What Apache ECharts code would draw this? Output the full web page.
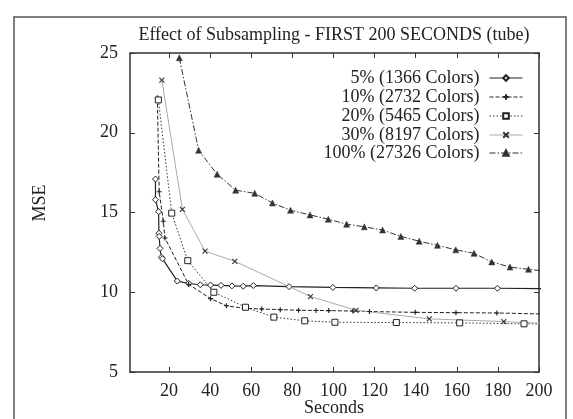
<!DOCTYPE html>
<html>
<head>
<meta charset="utf-8">
<script src="https://cdn.jsdelivr.net/npm/echarts@6/dist/echarts.min.js"></script>
<style>
  html, body { margin: 0; padding: 0; background: #fff; }
  #chart { width: 573px; height: 419px; }
</style>
</head>
<body>
<div id="chart"></div>
<script>
// tick labels
var xTicks = [20, 40, 60, 80, 100, 120, 140, 160, 180, 200];
var yTicks = [5, 10, 15, 20, 25];

// series names
var names = ['5% (1366 Colors)', '10% (2732 Colors)', '20% (5465 Colors)', '30% (8197 Colors)', '100% (27326 Colors)'];

// 5%
var x5 = [13.4, 13.4, 14.9, 15.1, 15.2, 15.6, 16.3, 16.8, 24, 29.6, 35.2, 40.2, 45.3, 50.6, 56.1, 61, 78.4, 99.7, 120.8, 139.5, 159.6, 179.8, 205];
var y5 = [17.1, 15.8, 15.05, 13.7, 13.5, 12.75, 12.2, 12.1, 10.7, 10.55, 10.47, 10.45, 10.43, 10.4, 10.38, 10.42, 10.35, 10.3, 10.27, 10.25, 10.25, 10.25, 10.22];
// 10%
var x10 = [14.3, 15.2, 17.2, 18.0, 29.5, 40.2, 47.9, 56.5, 65.1, 74.1, 83, 91.5, 97.7, 109.4, 117.5, 139.8, 159.6, 179.5, 215];
var y10 = [22.2, 16.3, 14.45, 13.4, 10.5, 9.6, 9.15, 9.0, 8.95, 8.91, 8.87, 8.86, 8.85, 8.82, 8.79, 8.74, 8.72, 8.7, 8.6];
// 20%
var x20 = [14.8, 21.3, 29.1, 41.8, 57.2, 71, 86, 100.7, 130.6, 161.4, 192.7, 220];
var y20 = [22.06, 14.96, 11.98, 10.0, 9.06, 8.44, 8.21, 8.12, 8.1, 8.08, 8.02, 7.98];
// 30%
var x30 = [16.5, 26.5, 37.5, 52, 88.8, 111, 146.6, 182.9, 219];
var y30 = [23.3, 15.2, 12.58, 11.94, 9.73, 8.87, 8.33, 8.16, 7.95];
// 100%
var x100 = [25, 34.4, 43.4, 52.4, 61.7, 70.3, 79.1, 88.6, 97.5, 106.4, 115, 123.9, 132.8, 141.7, 150.6, 159.5, 168.4, 177, 185.9, 194.9, 204];
var y100 = [24.7, 18.9, 17.4, 16.4, 16.2, 15.6, 15.14, 14.85, 14.58, 14.27, 14.1, 13.9, 13.5, 13.2, 12.94, 12.66, 12.44, 11.9, 11.58, 11.44, 11.3];

var FONT = 'Liberation Serif';
var INK = '#222';

function pairs(xs, ys) {
    return xs.map(function (x, i) { return [x, ys[i]]; });
}

var PLUS = 'path://M5,0L5,10M0,5L10,5';
var CROSS = 'path://M0,0L10,10M10,0L0,10';

var series = [
    {
        name: names[0], data: pairs(x5, y5),
        symbol: 'diamond', symbolSize: 6,
        lineStyle: { color: INK, width: 1.2, type: 'solid' },
        itemStyle: { color: '#fff', borderColor: INK, borderWidth: 1 }
    },
    {
        name: names[1], data: pairs(x10, y10),
        symbol: PLUS, symbolSize: 5,
        lineStyle: { color: INK, width: 1, type: [4, 2] },
        itemStyle: { color: INK, borderColor: INK, borderWidth: 1.1 }
    },
    {
        name: names[2], data: pairs(x20, y20),
        symbol: 'rect', symbolSize: 6,
        lineStyle: { color: '#333', width: 1, type: [1.5, 2] },
        itemStyle: { color: '#fff', borderColor: INK, borderWidth: 1 }
    },
    {
        name: names[3], data: pairs(x30, y30),
        symbol: CROSS, symbolSize: 5,
        lineStyle: { color: '#aaa', width: 1, type: 'solid' },
        itemStyle: { color: '#333', borderColor: '#333', borderWidth: 1.1 }
    },
    {
        name: names[4], data: pairs(x100, y100),
        symbol: 'triangle', symbolSize: 6,
        lineStyle: { color: '#333', width: 1, type: [6, 2, 1.5, 2] },
        itemStyle: { color: '#333', borderColor: '#333', borderWidth: 0.5 }
    }
].map(function (s) {
    s.type = 'line';
    s.showAllSymbol = true;
    s.animation = false;
    s.clip = true;
    return s;
});

// one legend per row so the line samples line up on the right
var legendRows = [78, 97, 116, 135, 153];
var legends = names.map(function (n, i) {
    return {
        data: [n], right: 50, top: legendRows[i] - 9,
        align: 'right', orient: 'vertical',
        itemWidth: 33, itemHeight: 7, padding: 0,
        lineStyle: { width: 1 },
        textStyle: { fontFamily: FONT, fontSize: 18, color: INK, lineHeight: 18, padding: [0, 5, 0, 0] },
        selectedMode: false
    };
});

var axisLine = { show: true, lineStyle: { color: '#333', width: 1.5 } };

var option = {
    backgroundColor: '#fff',
    animation: false,
    grid: { left: 130, right: 34, top: 53, bottom: 47 },
    legend: legends,
    xAxis: [
        {
            type: 'value', min: 1, max: 200, position: 'bottom',
            axisLine: axisLine,
            axisTick: { show: true, inside: true, length: 5, customValues: xTicks, lineStyle: { color: '#333' } },
            axisLabel: { customValues: xTicks, fontFamily: FONT, fontSize: 18, color: INK, margin: 10 },
            splitLine: { show: false }
        },
        {
            type: 'value', min: 1, max: 200, position: 'top',
            axisLine: axisLine,
            axisTick: { show: true, inside: true, length: 5, customValues: xTicks, lineStyle: { color: '#333' } },
            axisLabel: { show: false },
            splitLine: { show: false }
        }
    ],
    yAxis: [
        {
            type: 'value', min: yTicks[0], max: yTicks[yTicks.length - 1], interval: 5, position: 'left',
            axisLine: axisLine,
            axisTick: { show: true, inside: true, length: 5, lineStyle: { color: '#333' } },
            axisLabel: { fontFamily: FONT, fontSize: 18, color: INK, margin: 12 },
            splitLine: { show: false }
        },
        {
            type: 'value', min: yTicks[0], max: yTicks[yTicks.length - 1], interval: 5, position: 'right',
            axisLine: axisLine,
            axisTick: { show: true, inside: true, length: 5, lineStyle: { color: '#333' } },
            axisLabel: { show: false },
            splitLine: { show: false }
        }
    ],
    graphic: [
        {
            type: 'rect', silent: true,
            shape: { x: 14, y: 17, width: 552, height: 440 },
            style: { fill: 'none', stroke: '#555', lineWidth: 1.5 }
        },
        {
            type: 'text', x: 334, y: 35,
            style: { text: 'Effect of Subsampling - FIRST 200 SECONDS (tube)', font: '18px "Liberation Serif"', fill: INK, textAlign: 'center', textVerticalAlign: 'middle' }
        },
        {
            type: 'text', x: 334, y: 408,
            style: { text: 'Seconds', font: '18px "Liberation Serif"', fill: INK, textAlign: 'center', textVerticalAlign: 'middle' }
        },
        {
            type: 'text', x: 40, y: 203, rotation: Math.PI / 2,
            style: { text: 'MSE', font: '18px "Liberation Serif"', fill: INK, textAlign: 'center', textVerticalAlign: 'middle' }
        }
    ],
    series: series
};

echarts.init(document.getElementById('chart')).setOption(option);
</script>
</body>
</html>
